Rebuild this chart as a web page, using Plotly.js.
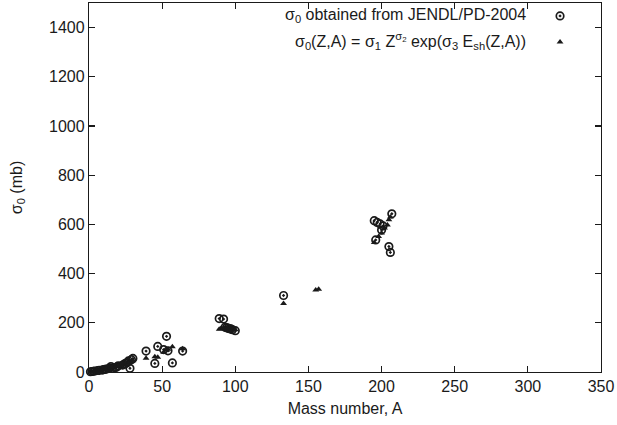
<!DOCTYPE html>
<html>
<head>
<meta charset="utf-8">
<script src="https://cdn.plot.ly/plotly-3.0.1.min.js"></script>
<style>html,body{margin:0;padding:0;background:#fff;}#chart{width:617px;height:425px;}</style>
</head>
<body>
<div id="chart"></div>
<script>
// JENDL/PD-2004 values (circles)
const massJendl = [1,2,3,4,6,7,9,10,11,12,14,15,16,18,19,20,23,24,25,26,27,28,29,30,
  39,45,47,51,53,54,57,64,
  89,92,93,94,95,96,97,98,100,
  133,
  195,197,199,201,200,207,196,205,206];
const sigmaJendl = [1,2,3,4,6,7,8,10,11,12,16,22,15,18,20,25,28,32,35,38,45,15,50,55,
  85,35,104,91,145,86,37,85,
  217,215,182,180,178,176,175,172,168,
  311,
  615,608,602,594,577,643,537,510,486];

// Systematics fit values (triangles)
const massFit = [1,2,3,4,6,7,9,10,11,12,14,15,16,18,19,20,23,24,25,26,27,28,29,30,
  39,45,47,51,53,54,57,64,
  89,90,92,93,94,95,96,97,98,100,
  133,
  155,157,
  195,198,200,202,204,205,206];
const sigmaFit = [0,1,2,3,5,6,8,9,11,12,15,17,19,21,23,25,29,31,33,35,37,40,43,46,
  56,62,60,80,88,92,103,95,
  174,176,178,178,177,176,175,174,173,172,
  278,
  333,336,
  526,551,565,585,598,619,630];

const labelJendl = "σ<sub>0</sub> obtained from JENDL/PD-2004";
const labelFit = "σ<sub>0</sub>(Z,A) = σ<sub>1</sub> Z<sup>σ<sub>2</sub></sup> exp(σ<sub>3</sub> E<sub>sh</sub>(Z,A))";

const ink = "#1a1a1a";
const circleMarker = {symbol: "circle-open-dot", size: 7.5, color: ink, line: {color: ink, width: 1.7}};
const triMarker = {symbol: "triangle-up", size: 6, color: ink, line: {width: 0}};

const traces = [
  {x: massJendl, y: sigmaJendl, mode: "markers", type: "scatter", marker: circleMarker, name: labelJendl, showlegend: false, cliponaxis: false},
  {x: massFit, y: sigmaFit, mode: "markers", type: "scatter", marker: triMarker, name: labelFit, showlegend: false, cliponaxis: false},
  // legend keys on an overlay paper-like axis
  {x: [0.92], y: [0.965], xaxis: "x2", yaxis: "y2", mode: "markers", type: "scatter", marker: circleMarker, showlegend: false, hoverinfo: "skip"},
  {x: [0.92], y: [0.894], xaxis: "x2", yaxis: "y2", mode: "markers", type: "scatter", marker: triMarker, showlegend: false, hoverinfo: "skip"}
];

const font = {family: "Liberation Sans, Arial, Helvetica, sans-serif", size: 16, color: ink};

const axisCommon = {
  showline: true, linecolor: ink, linewidth: 1.2, mirror: "ticks",
  ticks: "inside", ticklen: 6, tickwidth: 1.2, tickcolor: ink,
  showgrid: false, zeroline: false, tickfont: font
};

const layout = {
  width: 617, height: 425,
  margin: {l: 89, r: 16, t: 3, b: 53},
  paper_bgcolor: "#fff", plot_bgcolor: "#fff",
  font: font,
  showlegend: false,
  xaxis: Object.assign({}, axisCommon, {range: [0, 350], dtick: 50, tick0: 0,
    title: {text: "Mass number, A", font: font, standoff: 8}}),
  yaxis: Object.assign({}, axisCommon, {range: [0, 1500], dtick: 200, tick0: 0,
    title: {text: "σ<sub>0</sub> (mb)", font: font, standoff: 22}}),
  xaxis2: {overlaying: "x", range: [0, 1], visible: false, fixedrange: true},
  yaxis2: {overlaying: "y", range: [0, 1], visible: false, fixedrange: true},
  annotations: [
    {xref: "paper", yref: "paper", x: 0.857, y: 0.965, xanchor: "right", yanchor: "middle", text: labelJendl, showarrow: false, font: font},
    {xref: "paper", yref: "paper", x: 0.857, y: 0.898, xanchor: "right", yanchor: "middle", text: labelFit, showarrow: false, font: font}
  ]
};

Plotly.newPlot("chart", traces, layout, {displayModeBar: false, staticPlot: true});
</script>
</body>
</html>
